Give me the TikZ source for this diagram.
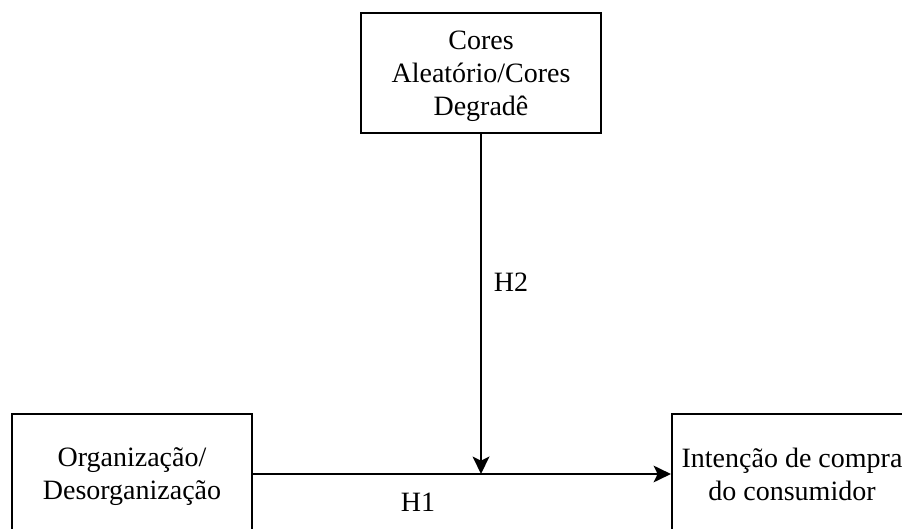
\documentclass[tikz,border=0pt]{standalone}
\usepackage{fontspec}
\setmainfont{Liberation Serif}
\usetikzlibrary{arrows.meta}

\begin{document}
\begin{tikzpicture}[x=0.75pt,y=0.75pt,line width=1.6pt,>={Stealth[length=13pt,width=12.5pt,inset=3pt]},
  caixa/.style={draw,minimum width=180pt,minimum height=90pt,align=center,inner sep=0pt,text depth=0pt,font=\fontsize{21}{24.75}\selectfont},
  rotulo/.style={font=\fontsize{21}{24.75}\selectfont}]
\useasboundingbox (0,0) rectangle (902,528);
% ---------- caixas ----------
\node[caixa] (cores) at (481,455) {Cores\\Aleatório/Cores\\Degradê};
\node[caixa] (org) at (132,54) {Organização/\\Desorganização};
\node[caixa] (intencao) at (792,54) {Intenção de compra\\do consumidor};
% ---------- setas ----------
\coordinate (encontro) at (cores.south |- org.east);
\draw[->] (org.east) -- (intencao.west);
\draw[->] (cores.south) -- (encontro);
% ---------- hipóteses ----------
\node[rotulo] (h2) at (511,246) {H2};
\node[rotulo] (h1) at (418,26) {H1};
\end{tikzpicture}
\end{document}
